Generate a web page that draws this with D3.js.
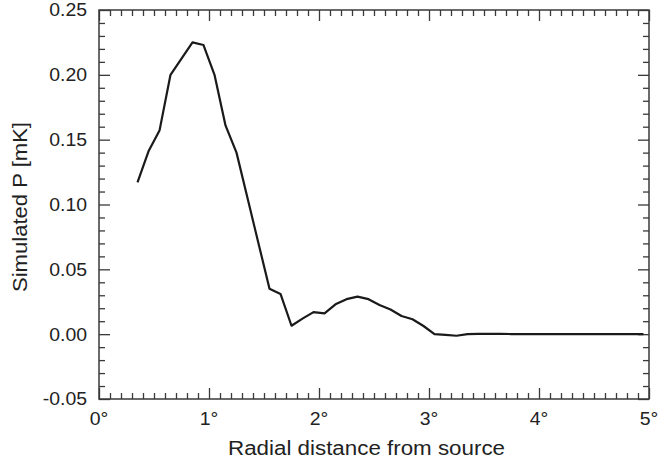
<!DOCTYPE html>
<html>
<head>
<meta charset="utf-8">
<script src="https://cdn.jsdelivr.net/npm/d3@7"></script>
<style>
  html, body { margin: 0; padding: 0; background: #fff; }
  svg { display: block; }
  text { font-family: "Liberation Sans", Arial, Helvetica, sans-serif; fill: #222; }
</style>
</head>
<body>
<svg id="chart" width="660" height="459"></svg>
<script>
// ---- data ----
const distanceDeg = [0.35, 0.45, 0.55, 0.65, 0.75, 0.85, 0.95, 1.05, 1.15, 1.25,
  1.35, 1.45, 1.55, 1.65, 1.75, 1.85, 1.95, 2.05, 2.15, 2.25,
  2.35, 2.45, 2.55, 2.65, 2.75, 2.85, 2.95, 3.05, 3.15, 3.25,
  3.35, 3.45, 3.55, 3.65, 3.75, 3.85, 3.95, 4.05, 4.15, 4.25,
  4.35, 4.45, 4.55, 4.65, 4.75, 4.85, 4.95];
const simulatedP = [0.117, 0.141, 0.157, 0.200, 0.2125, 0.225, 0.223, 0.200, 0.161, 0.140,
  0.105, 0.070, 0.035, 0.031, 0.0065, 0.012, 0.017, 0.016, 0.023, 0.027,
  0.029, 0.027, 0.0225, 0.019, 0.014, 0.0115, 0.0063, 0.0, -0.0005, -0.0012,
  0.0, 0.0003, 0.0003, 0.0002, 0.0001, 0.0, 0.0, 0.0, 0.0, 0.0,
  0.0, 0.0, 0.0, 0.0, 0.0, 0.0, 0.0];
const xTickValues = [0, 1, 2, 3, 4, 5];
const xTickLabels = ["0°", "1°", "2°", "3°", "4°", "5°"];
const yTickValues = [-0.05, 0.00, 0.05, 0.10, 0.15, 0.20, 0.25];
const yTickLabels = ["-0.05", "0.00", "0.05", "0.10", "0.15", "0.20", "0.25"];
const xTitle = "Radial distance from source";
const yTitle = "Simulated P [mK]";

// ---- layout ----
const plotL = 99, plotR = 649, plotT = 10, plotB = 399;
const svg = d3.select("#chart");
const x = d3.scaleLinear().domain([0, 5]).range([plotL, plotR]);
const y = d3.scaleLinear().domain([-0.05, 0.25]).range([plotB, plotT]);

const axisColor = "#3a3a3a";
const major = 11, minor = 6;
const xMinor = d3.range(0, 50).map(i => i / 10).filter(v => Math.abs(v - Math.round(v)) > 1e-9);
const yMinor = d3.range(-5, 26).map(i => i / 100).filter(v => Math.abs(v * 20 - Math.round(v * 20)) > 1e-9);

function styleAxis(g) {
  g.select(".domain").remove();
  g.selectAll("line").attr("stroke", axisColor).attr("stroke-width", 1.3);
  g.selectAll("text").remove();
}

// bottom & top (ticks pointing inward)
svg.append("g").attr("transform", `translate(0,${plotB})`)
  .call(d3.axisTop(x).tickValues(xTickValues).tickSize(major)).call(styleAxis);
svg.append("g").attr("transform", `translate(0,${plotB})`)
  .call(d3.axisTop(x).tickValues(xMinor).tickSize(minor)).call(styleAxis);
svg.append("g").attr("transform", `translate(0,${plotT})`)
  .call(d3.axisBottom(x).tickValues(xTickValues).tickSize(major)).call(styleAxis);
svg.append("g").attr("transform", `translate(0,${plotT})`)
  .call(d3.axisBottom(x).tickValues(xMinor).tickSize(minor)).call(styleAxis);
// left & right
svg.append("g").attr("transform", `translate(${plotL},0)`)
  .call(d3.axisRight(y).tickValues(yTickValues).tickSize(major)).call(styleAxis);
svg.append("g").attr("transform", `translate(${plotL},0)`)
  .call(d3.axisRight(y).tickValues(yMinor).tickSize(minor)).call(styleAxis);
svg.append("g").attr("transform", `translate(${plotR},0)`)
  .call(d3.axisLeft(y).tickValues(yTickValues).tickSize(major)).call(styleAxis);
svg.append("g").attr("transform", `translate(${plotR},0)`)
  .call(d3.axisLeft(y).tickValues(yMinor).tickSize(minor)).call(styleAxis);

// frame
svg.append("rect")
  .attr("x", plotL).attr("y", plotT)
  .attr("width", plotR - plotL).attr("height", plotB - plotT)
  .attr("fill", "none").attr("stroke", axisColor).attr("stroke-width", 1.5);

// tick labels
const sx = 1.08;
svg.append("g").selectAll("text").data(xTickValues).join("text")
  .attr("transform", d => `translate(${x(d)},424.5) scale(${sx},1)`)
  .attr("text-anchor", "middle")
  .style("font-size", "18px")
  .text((d, i) => xTickLabels[i]);
svg.append("g").selectAll("text").data(yTickValues).join("text")
  .attr("transform", d => `translate(87,${y(d) + 6.4}) scale(${sx},1)`)
  .attr("text-anchor", "end")
  .style("font-size", "18px")
  .text((d, i) => yTickLabels[i]);

// axis titles
svg.append("text")
  .attr("x", 228).attr("y", 455)
  .attr("textLength", 277).attr("lengthAdjust", "spacingAndGlyphs")
  .style("font-size", "20px")
  .text(xTitle);
svg.append("text")
  .attr("transform", "translate(27,292) rotate(-90)")
  .attr("textLength", 170).attr("lengthAdjust", "spacingAndGlyphs")
  .style("font-size", "20px")
  .text(yTitle);

// data line
const line = d3.line().x((d, i) => x(distanceDeg[i])).y(d => y(d));
svg.append("path")
  .datum(simulatedP)
  .attr("d", line)
  .attr("fill", "none")
  .attr("stroke", "#1a1a1a")
  .attr("stroke-width", 2.2)
  .attr("stroke-linejoin", "round");
</script>
</body>
</html>
